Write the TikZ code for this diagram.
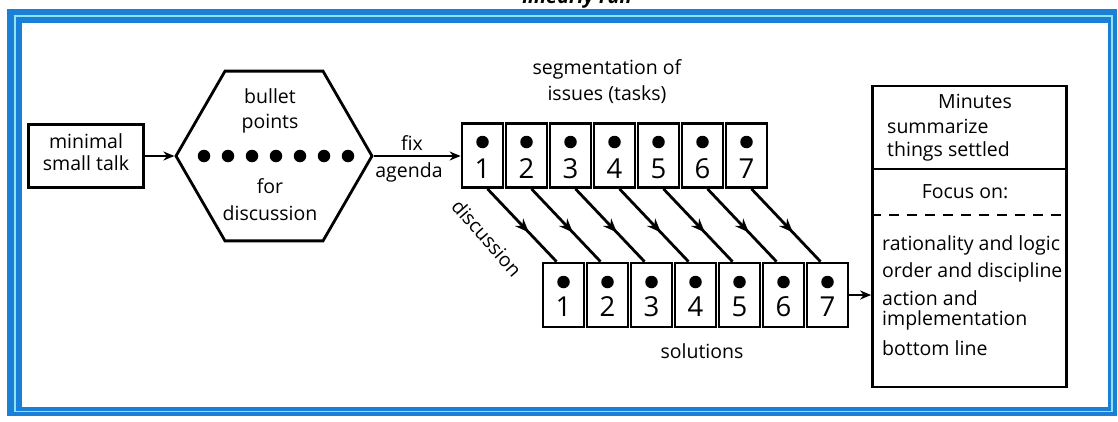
\documentclass[tikz,border=0pt]{standalone}
\usepackage{fontspec}
\setmainfont{Open Sans}
\usetikzlibrary{arrows.meta,shapes.geometric,decorations.markings}
\definecolor{frameblue}{RGB}{26,127,214}
\definecolor{framecyan}{RGB}{140,228,245}
\begin{document}
\begin{tikzpicture}[x=1pt,y=-1pt,
  ink/.style={line width=2.8pt},
  lbl/.style={font=\fontsize{19.5}{22}\selectfont, inner sep=0pt, anchor=base},
  lbll/.style={lbl, anchor=base west},
  numlbl/.style={font=\fontsize{27.5}{27.5}\selectfont, inner sep=0pt, anchor=base},
  cellbox/.style={draw, ink, minimum width=41pt, minimum height=64pt, inner sep=0pt},
  flow/.style={ink, -{Stealth[length=11pt,width=9pt]}},
  midflow/.style={ink, postaction={decorate},
    decoration={markings, mark=at position 0.6 with {\arrow{Stealth[length=14pt,width=11pt]}}}},
  bdot/.style={circle, fill, inner sep=0pt, minimum size=12.5pt},
]
\useasboundingbox (0,0) rectangle (1118,421);

% window frame
\fill[frameblue] (7,9) rectangle (1117,416);
\draw[framecyan, line width=1.8pt] (15,16) rectangle (1112,411.5);
\fill[white] (22,23) rectangle (1108,407);

% heading, cut off by the top edge
\begin{scope}
  \clip (0,0) rectangle (1118,8.5);
  \node[font=\bfseries\itshape\fontsize{20}{20}\selectfont, inner sep=0pt, anchor=base] (head) at (577,3) {linearly run};
\end{scope}

% opening small talk
\node[draw, ink, minimum width=115pt, minimum height=63pt, inner sep=0pt] (talk) at (86,156) {};
\node[lbl] (talk1) at (86,148) {minimal};
\node[lbl] (talk2) at (86,170) {small talk};

% bullet points hexagon
\node[draw, ink, regular polygon, regular polygon sides=6, minimum size=196pt, inner sep=0pt] (hex) at (274,156) {};
\node[lbl] (hex1) at (270,103) {bullet};
\node[lbl] (hex2) at (270,128) {points};
\node[lbl] (hex3) at (270,193) {for};
\node[lbl] (hex4) at (270,220) {discussion};
\foreach \k in {0,...,6}
  \node[bdot] (hd\k) at ({204+24*\k},156) {};

\draw[flow] (talk.east) -- (hex.west);

% segmentation of issues
\node[lbl] (seg1) at (607,74) {segmentation of};
\node[lbl] (seg2) at (607,100) {issues (tasks)};
\foreach \i in {1,...,7} {
  \node[cellbox] (t\i) at ({482.5+44*(\i-1)},155.5) {};
  \node[bdot] (td\i) at ({482.5+44*(\i-1)},142) {};
  \node[numlbl] (tn\i) at ({482.5+44*(\i-1)},178) {\i};
}

\coordinate (agin) at (t1.west |- hex.east);
\draw[flow] (hex.east) -- (agin);
\node[lbl] (fix1) at (412,150) {fix};
\node[lbl] (fix2) at (409,177) {agenda};

% solutions
\foreach \i in {1,...,7} {
  \node[cellbox] (b\i) at ({563.5+44*(\i-1)},295) {};
  \node[bdot] (bd\i) at ({563.5+44*(\i-1)},282) {};
  \node[numlbl] (bn\i) at ({563.5+44*(\i-1)},316) {\i};
}
\node[lbl] (sol) at (702,358) {solutions};

% discussion of each issue
\foreach \i in {1,...,7}
  \draw[midflow] ([xshift=5pt]t\i.south) -- ([xshift=-7pt]b\i.north);
\node[font=\fontsize{19.5}{22}\selectfont, inner sep=0pt, rotate=-49] (disc) at (487,238) {discussion};

% minutes
\node[draw, ink, minimum width=194pt, minimum height=83pt, inner sep=0pt] (rtop) at (969.5,127.5) {};
\node[draw, ink, minimum width=194pt, minimum height=218pt, inner sep=0pt] (rbot) at (969.5,278) {};
\draw[ink, dash pattern=on 10pt off 8pt] (rbot.west |- 0,215) -- (rbot.east |- 0,215);
\node[lbl] (m1) at (975,108) {Minutes};
\node[lbll] (m2) at (887,133) {summarize};
\node[lbll] (m3) at (887,156) {things settled};
\node[lbl] (f0) at (965,198) {Focus on:};
\node[lbll] (f1) at (882,250) {rationality and logic};
\node[lbll] (f2) at (882,277) {order and discipline};
\node[lbll] (f3) at (882,305) {action and};
\node[lbll] (f4) at (882,325) {implementation};
\node[lbll] (f5) at (882,355) {bottom line};

\coordinate (rin) at (rbot.west |- b7.east);
\draw[flow] (b7.east) -- (rin);
\end{tikzpicture}
\end{document}
